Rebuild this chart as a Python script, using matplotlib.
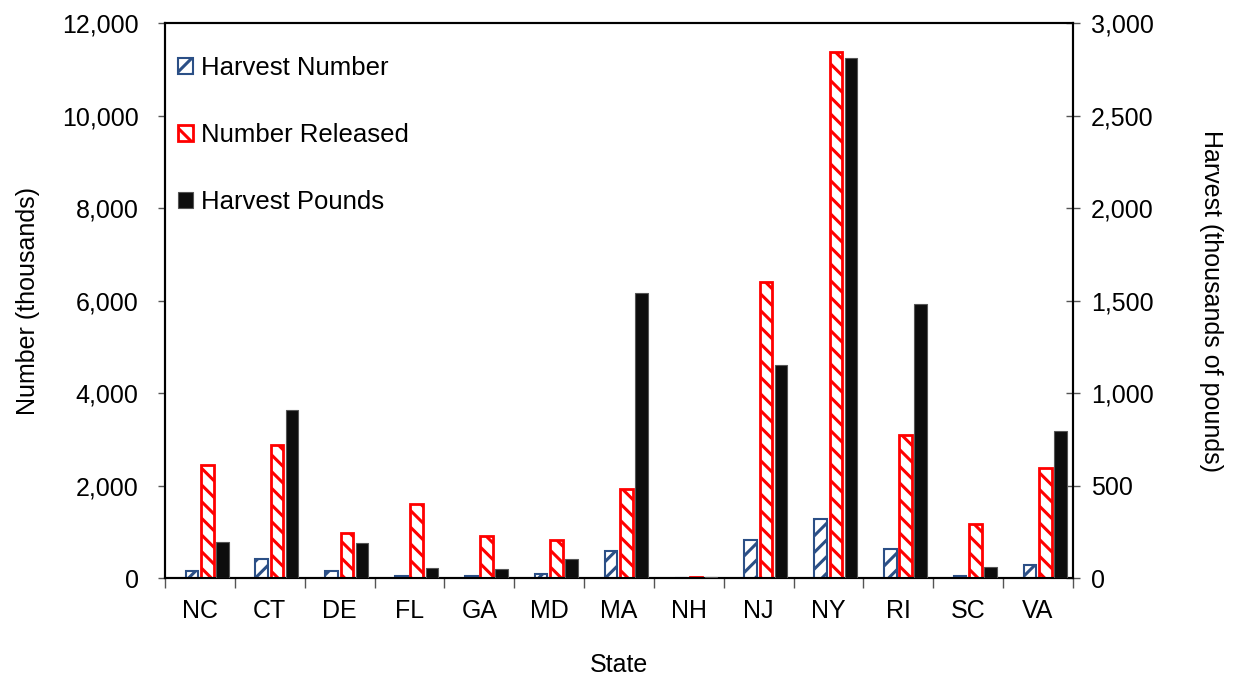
import numpy as np
import matplotlib
matplotlib.use('Agg')
import matplotlib.pyplot as plt
from matplotlib.ticker import FuncFormatter, FixedLocator, NullFormatter

plt.rcParams['font.family'] = ['Liberation Sans', 'DejaVu Sans']
plt.rcParams['hatch.linewidth'] = 2.2

#------------- data ----------------------------------------------
states = ['NC', 'CT', 'DE', 'FL', 'GA', 'MD', 'MA', 'NH', 'NJ', 'NY', 'RI', 'SC', 'VA']
harvest_number = [150, 410, 150, 40, 50, 90, 580, 10, 820, 1280, 630, 40, 280]          # thousands of fish
number_released = [2440, 2880, 970, 1600, 900, 830, 1920, 20, 6400, 11370, 3090, 1170, 2380]  # thousands of fish
harvest_pounds = [195, 908, 189, 54, 48, 105, 1540, 5, 1151, 2811, 1481, 59, 797]       # thousands of pounds

x = np.arange(len(states))
w = 0.18                                                           # bar width (category units)
fs = 18

fig = plt.figure(figsize=(12.35, 6.77), dpi=100)
ax = fig.add_axes([0.1336, 0.1462, 0.7352, 0.8198])
ax2 = ax.twinx()

b1 = ax.bar(x - 0.115, harvest_number, w, facecolor='white', edgecolor='#2B4F86',
            hatch='//', linewidth=1.5, label='Harvest Number', zorder=3)
b2 = ax.bar(x + 0.105, number_released, w, facecolor='white', edgecolor='#FF0000',
            hatch='\\\\', linewidth=2.0, label='Number Released', zorder=3)
b3 = ax2.bar(x + 0.32, harvest_pounds, w, facecolor='#0D0D0D', edgecolor='#555555',
             linewidth=0.8, label='Harvest Pounds', zorder=3)

#------------- axes ------------------------------------------------
ax.set_xlim(-0.5, len(states) - 0.5)
ax.set_ylim(0, 12000)
ax2.set_ylim(0, 3000)
ax.set_yticks(np.arange(0, 12001, 2000))
ax2.set_yticks(np.arange(0, 3001, 500))
fmt = FuncFormatter(lambda v, p: '{:,.0f}'.format(v))
ax.yaxis.set_major_formatter(fmt)
ax2.yaxis.set_major_formatter(fmt)

ax.set_xticks(x)
ax.set_xticklabels(states)
ax.xaxis.set_minor_locator(FixedLocator(np.arange(-0.5, len(states), 1.0)))
ax.xaxis.set_minor_formatter(NullFormatter())
ax.tick_params(axis='x', which='major', length=0, labelsize=fs, pad=15)
ax.tick_params(axis='x', which='minor', length=7, width=1, color='#555555')
ax.tick_params(axis='y', length=5, width=1, color='#555555', labelsize=fs, pad=14)
ax2.tick_params(axis='y', direction='inout', length=10, width=1, color='#555555', labelsize=fs, pad=8)

for a in (ax, ax2):
    for s in a.spines.values():
        s.set_linewidth(1.5)
        s.set_color('black')

ax.set_xlabel('State', fontsize=fs, labelpad=22)
ax.set_ylabel('Number (thousands)', fontsize=fs, labelpad=16)
ax2.set_ylabel('Harvest (thousands of pounds)', fontsize=fs, rotation=270, labelpad=50)

leg = ax2.legend(handles=[b1, b2, b3], loc='upper left', bbox_to_anchor=(-0.013, 0.985),
                 frameon=False, fontsize=fs + 0.5, handlelength=0.6, handleheight=0.6,
                 handletextpad=0.3, labelspacing=1.68, borderaxespad=0.55)

fig.savefig('out.png', dpi=100)
